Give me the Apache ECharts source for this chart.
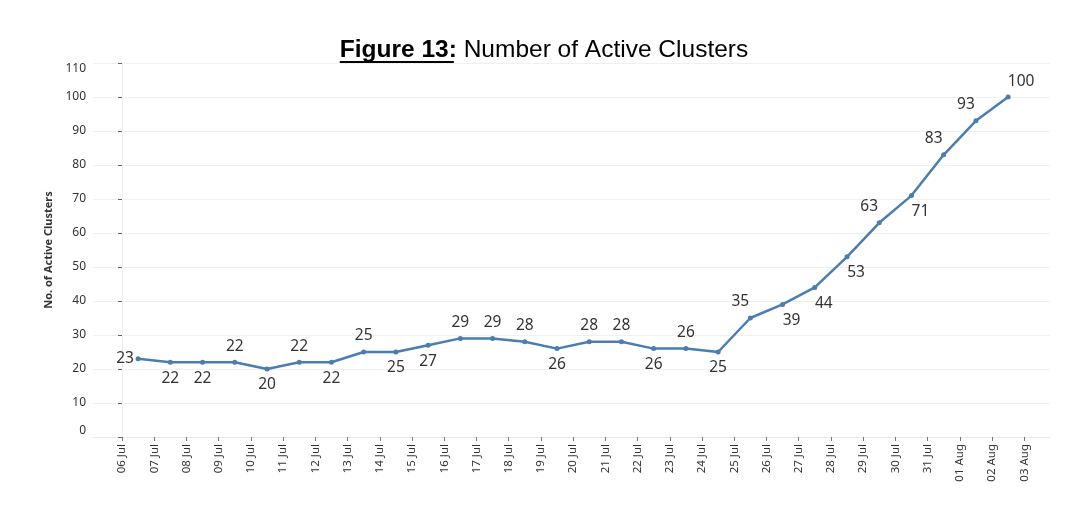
<!DOCTYPE html>
<html><head><meta charset="utf-8">
<script src="https://cdn.jsdelivr.net/npm/echarts@6/dist/echarts.min.js"></script>
<style>html,body{margin:0;padding:0;background:#fff}#c{width:1080px;height:512px}</style>
</head><body><div id="c"></div>
<script>
// Tick labels (day boundaries)
const tickLabels = ['06 Jul','07 Jul','08 Jul','09 Jul','10 Jul','11 Jul','12 Jul','13 Jul','14 Jul','15 Jul','16 Jul','17 Jul','18 Jul','19 Jul','20 Jul','21 Jul','22 Jul','23 Jul','24 Jul','25 Jul','26 Jul','27 Jul','28 Jul','29 Jul','30 Jul','31 Jul','01 Aug','02 Aug','03 Aug'];
// Active clusters per day (plotted between consecutive ticks)
const activeClusters = [23,22,22,22,20,22,22,25,25,27,29,29,28,26,28,28,26,26,25,35,39,44,53,63,71,83,93,100];
// Label placement per point
const labelSide = ['l','b','b','t','b','t','b','t','b','b','t','t','t','b','t','t','b','t','b','tl','br','br','br','tl','br','tl','tl','tr'];

const sideOffset = {l:[-13,0], t:[0,-16], b:[0,16], tl:[-10,-16], tr:[13,-15], br:[9,16]};
const lineColor = '#4a7db0';
const tickIdx = tickLabels.map((_,i)=>i);

const seriesData = activeClusters.map((v,i)=>({
  value:[i+0.5, v],
  label:{position:'inside', offset: sideOffset[labelSide[i]]}
}));

// Title pieces measured for underline
const cv = document.createElement('canvas').getContext('2d');
const fBold = 'bold 24.5px "Liberation Sans", Arial, sans-serif';
const fReg = '24.5px "Liberation Sans", Arial, sans-serif';
const t1 = 'Figure 13:', t2 = ' Number of Active Clusters';
cv.font = fBold; const w1 = cv.measureText(t1).width;
cv.font = fReg; const w2 = cv.measureText(t2).width;
const cx = 544, tx = cx - (w1+w2)/2, ty = 51;

const chart = echarts.init(document.getElementById('c'), null, {renderer:'canvas'});
chart.setOption({
  animation:false,
  backgroundColor:'#fff',
  grid:{left:93, right:30, top:63, bottom:75},
  graphic:[
    {type:'text', left:tx, top:ty-13, style:{text:t1, font:fBold, fill:'#000'}},
    {type:'text', left:tx+w1, top:ty-13, style:{text:t2, font:fReg, fill:'#000'}},
    {type:'line', shape:{x1:tx, y1:ty+11, x2:tx+w1-3, y2:ty+11}, style:{stroke:'#000', lineWidth:2}}
  ],
  xAxis:{
    type:'value', min:-0.9, max:28.8,
    axisLine:{show:true, lineStyle:{color:'#e8e8e8'}},
    axisTick:{show:true, length:4, customValues:tickIdx, lineStyle:{color:'#777'}},
    splitLine:{show:false},
    axisLabel:{rotate:90, fontSize:11.5, color:'#333', fontFamily:'"Noto Sans", sans-serif', margin:7,
      customValues:tickIdx, showMinLabel:true, showMaxLabel:true,
      formatter:(v)=>tickLabels[Math.round(v)] ?? ''}
  },
  yAxis:{
    type:'value', min:0, max:110, interval:10,
    name:'No. of Active Clusters', nameLocation:'middle', nameGap:35,
    nameTextStyle:{fontSize:11, fontWeight:'bold', color:'#333', fontFamily:'"Noto Sans", sans-serif'},
    axisLine:{show:true, lineStyle:{color:'#eeeeee'}},
    axisTick:{show:true, length:4, lineStyle:{color:'#666'}},
    splitLine:{show:true, lineStyle:{color:'#f0f0f0'}},
    axisLabel:{fontSize:12, color:'#333', fontFamily:'"Noto Sans", sans-serif', margin:7,
      verticalAlignMinLabel:'bottom', verticalAlignMaxLabel:'top'}
  },
  series:[{
    type:'line', data:seriesData,
    lineStyle:{color:lineColor, width:2.5},
    itemStyle:{color:lineColor},
    symbol:'circle', symbolSize:5, showSymbol:true,
    label:{show:true, formatter:(p)=>p.value[1], fontSize:15.5, color:'#333', fontFamily:'"Noto Sans", sans-serif'}
  }]
});
</script></body></html>
